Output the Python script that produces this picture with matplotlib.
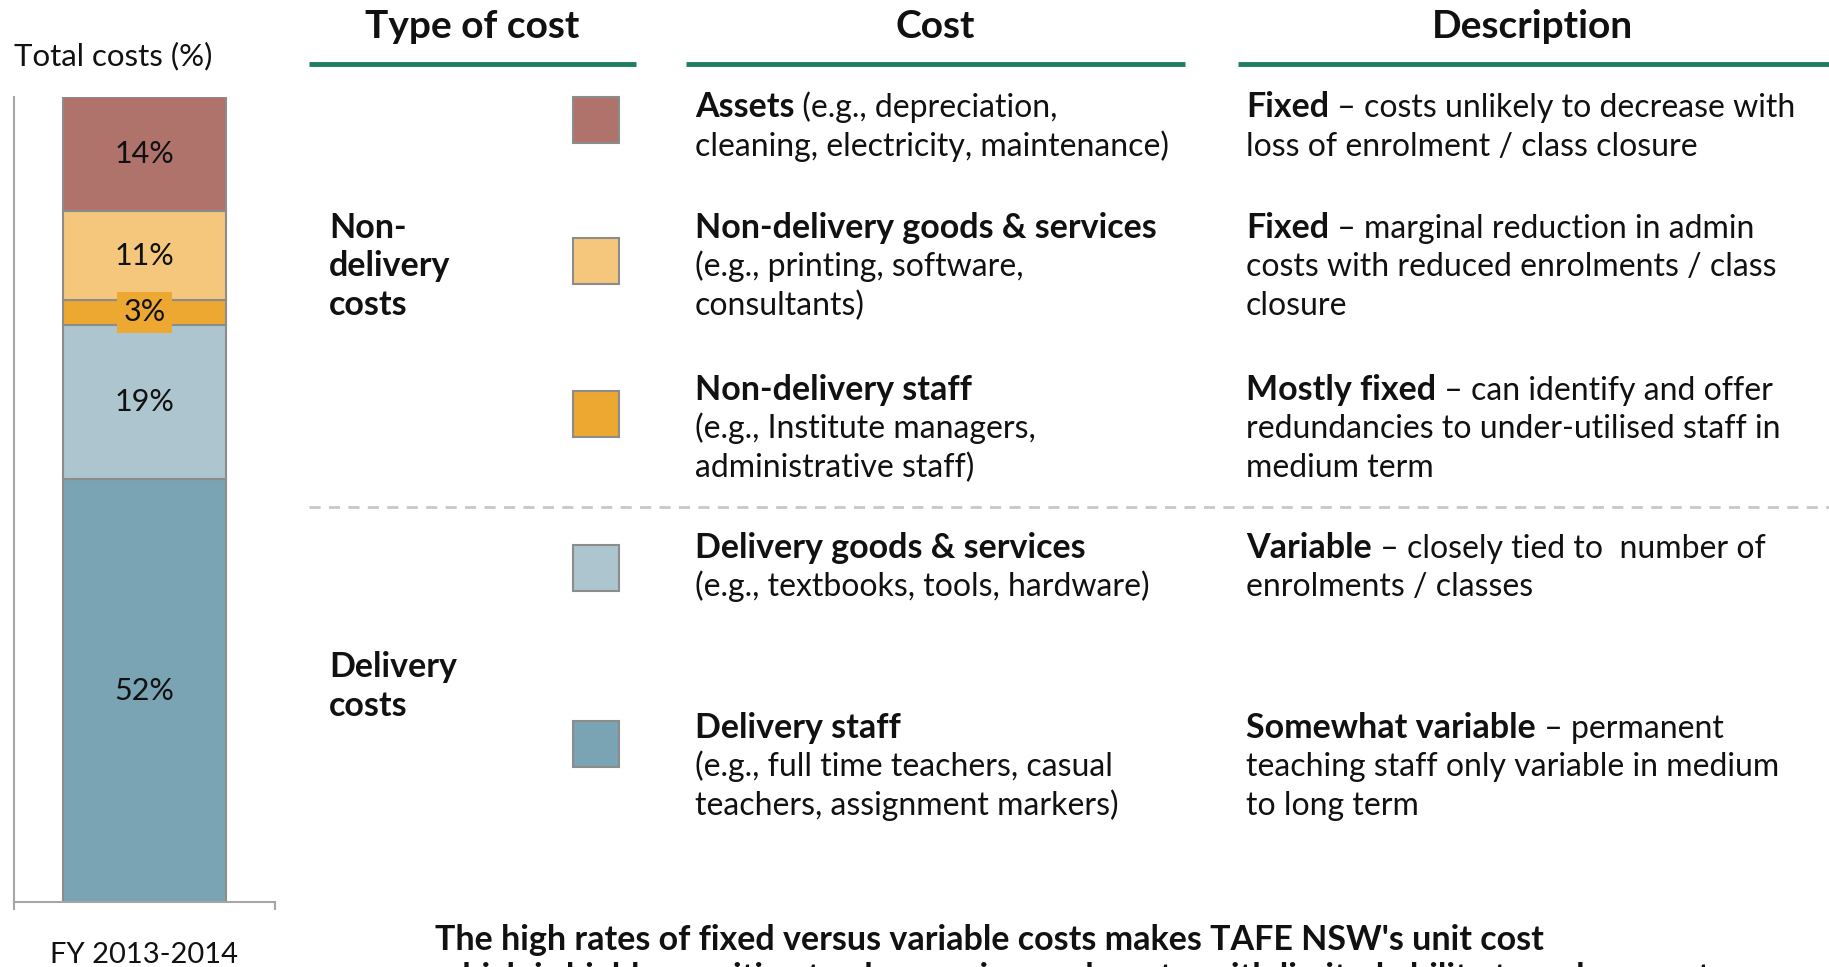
import matplotlib
matplotlib.use('Agg')
import matplotlib.pyplot as plt
from matplotlib.patches import Rectangle

plt.rcParams['font.family'] = ['Lato', 'DejaVu Sans']

# ---------------- data ----------------
categories = ['FY 2013-2014']
segment_names = ['Delivery staff', 'Delivery goods & services', 'Non-delivery staff',
                 'Non-delivery goods & services', 'Assets']
values = [52, 19, 3, 11, 14]
seg_colors = ['#7aa3b4', '#adc5cf', '#eda832', '#f5c77d', '#b0736b']

y_label = 'Total costs (%)'
headers = ['Type of cost', 'Cost', 'Description']
group_labels = [['Non-', 'delivery', 'costs'], ['Delivery', 'costs']]

B, N = True, False
cost_text = [
    [[("Assets", B), (" (e.g., depreciation,", N)], [("cleaning, electricity, maintenance)", N)]],
    [[("Non-delivery goods & services", B)], [("(e.g., printing, software,", N)], [("consultants)", N)]],
    [[("Non-delivery staff", B)], [("(e.g., Institute managers,", N)], [("administrative staff)", N)]],
    [[("Delivery goods & services", B)], [("(e.g., textbooks, tools, hardware)", N)]],
    [[("Delivery staff", B)], [("(e.g., full time teachers, casual", N)], [("teachers, assignment markers)", N)]],
]
desc_text = [
    [[("Fixed", B), (" \u2013 costs unlikely to decrease with", N)], [("loss of enrolment / class closure", N)]],
    [[("Fixed", B), (" \u2013 marginal reduction in admin", N)], [("costs with reduced enrolments / class", N)], [("closure", N)]],
    [[("Mostly fixed", B), (" \u2013 can identify and offer", N)], [("redundancies to under-utilised staff in", N)], [("medium term", N)]],
    [[("Variable", B), (" \u2013 closely tied to  number of", N)], [("enrolments / classes", N)]],
    [[("Somewhat variable", B), (" \u2013 permanent", N)], [("teaching staff only variable in medium", N)], [("to long term", N)]],
]
footer = ["The high rates of fixed versus variable costs makes TAFE NSW's unit cost",
          "which is highly sensitive to changes in enrolments, with limited ability to reduce costs"]

# ---------------- layout ----------------
W, H = 1829, 967
fig = plt.figure(figsize=(W / 100, H / 100), dpi=100)
fig.patch.set_facecolor('white')

GREEN = '#1f7f5c'
AXGRAY = '#a6a6a6'
TXT = '#111111'
FS = 23      # regular body text
FSB = 24.5   # bold body text

# bar chart axes (pixel box: x 14..275, y 97..902)
ax = fig.add_axes([14 / W, 1 - 902 / H, (275 - 14) / W, (902 - 97) / H])
bottom = 0
for name, v, c in zip(segment_names, values, seg_colors):
    ax.bar(0, v, width=0.625, bottom=bottom, color=c, edgecolor='#8c8c8c', linewidth=1.5, zorder=2)
    kw = {}
    if v < 5:
        kw['bbox'] = dict(boxstyle='square,pad=0.22', fc=c, ec='none')
    ax.text(0, bottom + v / 2, f'{v}%', ha='center', va='center', fontsize=22, color=TXT,
            zorder=3, **kw)
    bottom += v
ax.set_xlim(-0.5, 0.5)
ax.set_ylim(0, sum(values))
for s in ['top', 'right']:
    ax.spines[s].set_visible(False)
for s in ['left', 'bottom']:
    ax.spines[s].set_color(AXGRAY)
    ax.spines[s].set_linewidth(1.5)
ax.set_yticks([])
ax.set_xticks([0])
ax.set_xticklabels(categories, fontsize=21, color=TXT)
ax.tick_params(axis='x', which='major', length=0, pad=29)
ax.set_xticks([-0.5, 0.5], minor=True)
ax.tick_params(axis='x', which='minor', length=6, width=1.5, color=AXGRAY, direction='out')
ax.patch.set_alpha(0)

# overlay axes in pixel coordinates (1 data unit = 1 pixel)
ov = fig.add_axes([0, 0, 1, 1])
ov.set_xlim(0, W)
ov.set_ylim(H, 0)
ov.axis('off')
ov.patch.set_alpha(0)

renderer = fig.canvas.get_renderer()


def rich(x, y, parts):
    cx = x
    for txt, bold in parts:
        t = ov.text(cx, y, txt, ha='left', va='baseline',
                    fontsize=FSB if bold else FS,
                    fontweight='bold' if bold else 'normal', color=TXT)
        cx += t.get_window_extent(renderer=renderer).width


ov.text(14, 56, y_label, ha='left', va='center', fontsize=22.5, color=TXT)

# headers
head_x = [472, 935, 1532]
line_spans = [(309, 636), (686, 1185), (1238, 1829)]
for hx, h in zip(head_x, headers):
    ov.text(hx, 27, h, ha='center', va='center', fontsize=28, fontweight='bold', color=TXT)
for x0, x1 in line_spans:
    ov.plot([x0, x1], [64, 64], color=GREEN, lw=3.5, solid_capstyle='butt')

# dashed separator
ov.plot([309, 1829], [507, 507], color='#c8c8c8', lw=2, dashes=(4, 3))

LS = 38.5
BASE = 12  # baseline offset below visual line centre

# group labels
for gy, lines in zip([226, 665], group_labels):
    for j, ln in enumerate(lines):
        ov.text(329, gy + j * LS + BASE, ln, ha='left', va='baseline', fontsize=FSB,
                fontweight='bold', color=TXT)

# rows
row_y = [105, 226, 388, 546, 726]
sq_top = [97, 238, 391, 545, 721]
row_colors = seg_colors[::-1]
for i in range(5):
    ov.add_patch(Rectangle((573, sq_top[i]), 46, 46, facecolor=row_colors[i], edgecolor='#8c8c8c',
                           lw=1.5))
    for j, line in enumerate(cost_text[i]):
        rich(695, row_y[i] + j * LS + BASE, line)
    for j, line in enumerate(desc_text[i]):
        rich(1246, row_y[i] + j * LS + BASE, line)

# footer (second line is cut by the lower edge, as in the original)
for j, t in enumerate(footer):
    ov.text(435, 938 + j * LS + BASE, t, ha='left', va='baseline', fontsize=24.5,
            fontweight='bold', color=TXT)

fig.savefig('out.png', dpi=100, facecolor='white')
